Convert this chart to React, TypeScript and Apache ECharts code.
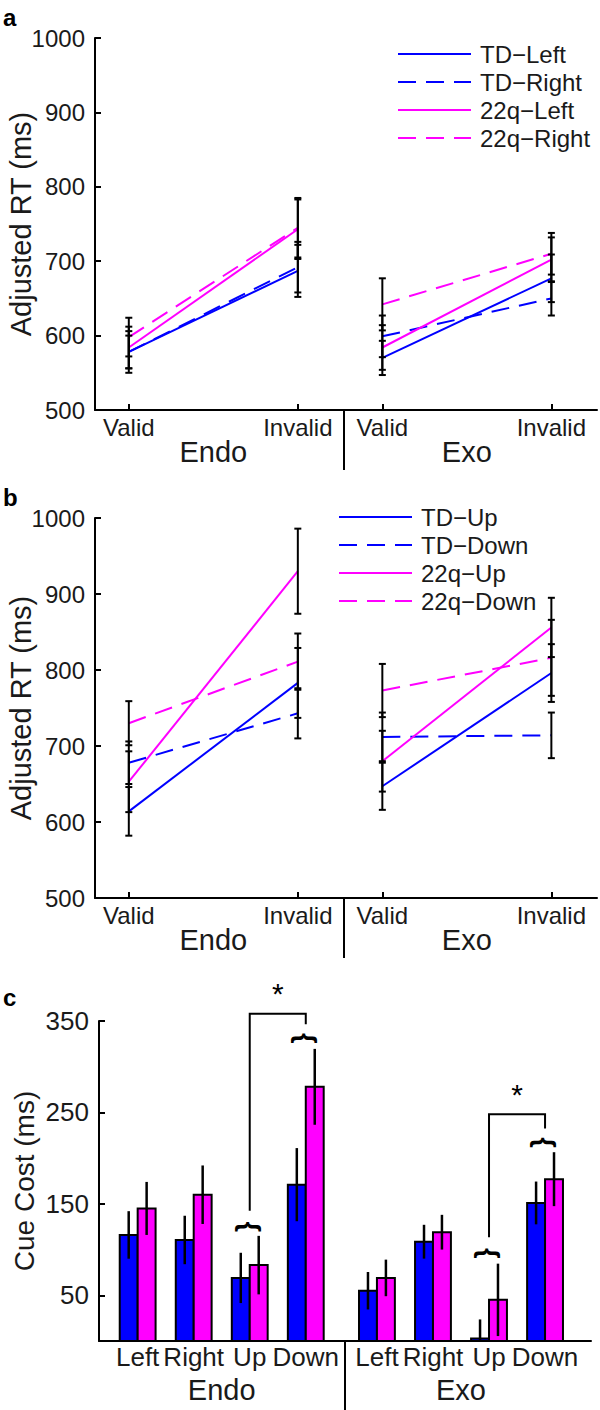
import React, { useEffect, useRef } from 'react';
import * as echarts from 'echarts';

const FONT = '"Liberation Sans", Arial, Helvetica, sans-serif';
const TEXT = '#1a1a1a';
const BLUE = '#0000ff';
const MAGENTA = '#ff00ff';

// ---------- categories / tick labels ----------
const validityLabels = ['Valid', 'Invalid', 'Valid', 'Invalid'];
const cueTypeLabels = ['Endo', 'Exo'];
const cueDirLabels = ['Left', 'Right', 'Up', 'Down', 'Left', 'Right', 'Up', 'Down'];
const rtTicks = [500, 600, 700, 800, 900, 1000];
const costTicks = [50, 150, 250, 350];

// ---------- panel a : adjusted RT, [Endo-Valid, Endo-Invalid, Exo-Valid, Exo-Invalid] ----------
const aNames = ['TD−Left', 'TD−Right', '22q−Left', '22q−Right'];
const aTDLeft = [578, 687, 570, 677];
const aTDRight = [578, 692, 599, 650];
const a22qLeft = [584, 743, 584, 702];
const a22qRight = [598, 745, 642, 710];
const aTDLeftErr = [22, 35, 23, 32];
const aTDRightErr = [28, 34, 28, 23];
const a22qLeftErr = [28, 40, 30, 30];
const a22qRightErr = [26, 40, 35, 28];

// ---------- panel b ----------
const bNames = ['TD−Up', 'TD−Down', '22q−Up', '22q−Down'];
const bTDUp = [614, 783, 647, 796];
const bTDDown = [678, 743, 712, 714];
const b22qUp = [653, 930, 680, 856];
const b22qDown = [730, 811, 773, 816];
const bTDUpErr = [32, 46, 31, 38];
const bTDDownErr = [28, 33, 32, 30];
const b22qUpErr = [40, 56, 40, 39];
const b22qDownErr = [29, 37, 35, 50];

// ---------- panel c : cue cost, Endo L R U D, Exo L R U D ----------
const cTD = [116, 110.5, 69, 171, 55, 108.6, 2.6, 151];
const c22q = [145, 160, 83, 278, 69, 119, 45, 177];
const cTDErr = [26, 26.5, 27.5, 40, 20.5, 18.5, 21, 23.4];
const c22qErr = [29, 32, 32, 41.5, 20, 19, 39.6, 29.5];
// significance annotations (category index pairs and levels in ms)
const sigPairs = [[2, 3], [6, 7]];
const braceLevels = [125, 331, 96, 217];
const bracketTops = [358, 248];

// ---------- layout (axis positions, not data) ----------
const rtX = [0, 1, 1.5, 2.5];
const rtGroupX = [0.5, 2.0];
const rtDivider = 1.27;
const cueX = [0, 1, 2, 3, 4.27, 5.27, 6.27, 7.27];
const cueGroupX = [1.5, 5.77];
const cueDivider = 3.7;

const lineStyles = [
  { color: BLUE, type: 'solid' },
  { color: BLUE, type: [18, 10] },
  { color: MAGENTA, type: 'solid' },
  { color: MAGENTA, type: [18, 10] },
];

const axisLineStyle = { color: '#000', width: 2 };

function lineSeries(names: string[], vals: number[][], xIdx: number, yIdx: number) {
  const out: any[] = [];
  names.forEach((name, i) => {
    const st = lineStyles[i];
    [[0, 1], [2, 3]].forEach((seg) => {
      out.push({
        type: 'line',
        name,
        xAxisIndex: xIdx,
        yAxisIndex: yIdx,
        symbol: 'none',
        showSymbol: false,
        z: 2,
        color: st.color,
        lineStyle: { color: st.color, width: 2, type: st.type },
        data: seg.map((k) => [rtX[k], vals[i][k]]),
      });
    });
  });
  return out;
}

function errorSeries(vals: number[][], errs: number[][], xIdx: number, yIdx: number) {
  const data: number[][] = [];
  vals.forEach((v, i) => v.forEach((val, k) => data.push([rtX[k], val, errs[i][k]])));
  return {
    type: 'custom',
    xAxisIndex: xIdx,
    yAxisIndex: yIdx,
    z: 5,
    clip: false,
    encode: { x: 0, y: 1 },
    data,
    renderItem: (_p: any, api: any) => {
      const x = api.value(0);
      const v = api.value(1);
      const e = api.value(2);
      const hi = api.coord([x, v + e]);
      const lo = api.coord([x, v - e]);
      const cap = 3.5;
      const st = { stroke: '#000', lineWidth: 2 };
      return {
        type: 'group',
        children: [
          { type: 'line', shape: { x1: hi[0], y1: hi[1], x2: lo[0], y2: lo[1] }, style: st },
          { type: 'line', shape: { x1: hi[0] - cap, y1: hi[1], x2: hi[0] + cap, y2: hi[1] }, style: st },
          { type: 'line', shape: { x1: lo[0] - cap, y1: lo[1], x2: lo[0] + cap, y2: lo[1] }, style: st },
        ],
      };
    },
  };
}

function rtXAxes(gridIndex: number) {
  return [
    {
      type: 'value',
      gridIndex,
      min: -0.2,
      max: 2.77,
      position: 'bottom',
      offset: 0,
      axisLine: { show: true, onZero: false, lineStyle: axisLineStyle },
      axisTick: { show: true, inside: true, length: 6, customValues: rtX, lineStyle: axisLineStyle },
      axisLabel: {
        show: true,
        customValues: rtX,
        formatter: (v: number) => validityLabels[rtX.indexOf(v)] ?? '',
        fontSize: 24,
        margin: 5,
        color: TEXT,
        fontFamily: FONT,
      },
      splitLine: { show: false },
    },
    {
      type: 'value',
      gridIndex,
      min: -0.2,
      max: 2.77,
      position: 'bottom',
      offset: 0,
      axisLine: { show: false, onZero: false },
      axisTick: { show: true, inside: false, length: 60, customValues: [rtDivider], lineStyle: axisLineStyle },
      axisLabel: {
        show: true,
        customValues: rtGroupX,
        formatter: (v: number) => cueTypeLabels[rtGroupX.indexOf(v)] ?? '',
        fontSize: 29,
        margin: 27,
        color: TEXT,
        fontFamily: FONT,
      },
      splitLine: { show: false },
    },
  ];
}

function rtYAxis(gridIndex: number) {
  return {
    type: 'value',
    gridIndex,
    min: rtTicks[0],
    max: rtTicks[rtTicks.length - 1],
    interval: 100,
    axisLine: { show: true, onZero: false, lineStyle: axisLineStyle },
    axisTick: { show: true, inside: true, length: 6, lineStyle: axisLineStyle },
    axisLabel: { fontSize: 24, margin: 10, color: TEXT, fontFamily: FONT, formatter: (v: number) => String(v) },
    splitLine: { show: false },
    name: 'Adjusted RT (ms)',
    nameLocation: 'middle',
    nameGap: 60,
    nameMoveOverlap: false,
    nameTextStyle: { fontSize: 29, color: TEXT, fontFamily: FONT },
  };
}

function legendFor(names: string[], left: number, top: number) {
  return {
    data: names,
    orient: 'vertical',
    left,
    top,
    padding: 0,
    itemWidth: 73,
    itemHeight: 14,
    itemGap: 4,
    selectedMode: false,
    itemStyle: { opacity: 0, color: 'transparent', borderColor: 'transparent', borderWidth: 0 },
    textStyle: { fontSize: 24, lineHeight: 24, color: TEXT, fontFamily: FONT, padding: [0, 0, 0, 4] },
  };
}

export default function App() {
  const ref = useRef<HTMLDivElement>(null);
  useEffect(() => {
    document.body.style.margin = '0';
    if (!ref.current) return;
    const chart = echarts.init(ref.current, undefined, { renderer: 'svg' });

    const aVals = [aTDLeft, aTDRight, a22qLeft, a22qRight];
    const aErrs = [aTDLeftErr, aTDRightErr, a22qLeftErr, a22qRightErr];
    const bVals = [bTDUp, bTDDown, b22qUp, b22qDown];
    const bErrs = [bTDUpErr, bTDDownErr, b22qUpErr, b22qDownErr];

    const barData = cueX.map((x, i) => [x, cTD[i], c22q[i], cTDErr[i], c22qErr[i]]);
    const sigData = sigPairs.map((p, k) => [
      cueX[p[0]],
      cueX[p[1]],
      braceLevels[k * 2],
      braceLevels[k * 2 + 1],
      bracketTops[k],
    ]);

    const gridBase = { outerBoundsMode: 'none', containLabel: false };

    const option: any = {
      animation: false,
      textStyle: { fontFamily: FONT },
      grid: [
        { ...gridBase, left: 95, top: 38, width: 502, height: 372 },
        { ...gridBase, left: 95, top: 518, width: 502, height: 380 },
        { ...gridBase, left: 99, top: 1021, width: 492, height: 320 },
      ],
      legend: [legendFor(aNames, 397, 42), legendFor(bNames, 338, 505)],
      xAxis: [
        ...rtXAxes(0),
        ...rtXAxes(1),
        {
          type: 'value',
          gridIndex: 2,
          min: -0.69,
          max: 8.09,
          position: 'bottom',
          offset: 0,
          axisLine: { show: true, onZero: false, lineStyle: axisLineStyle },
          axisTick: { show: false },
          axisLabel: {
            show: true,
            customValues: cueX,
            formatter: (v: number) => cueDirLabels[cueX.indexOf(v)] ?? '',
            fontSize: 26,
            margin: 3,
            color: TEXT,
            fontFamily: FONT,
          },
          splitLine: { show: false },
        },
        {
          type: 'value',
          gridIndex: 2,
          min: -0.69,
          max: 8.09,
          position: 'bottom',
          offset: 0,
          axisLine: { show: false, onZero: false },
          axisTick: { show: true, inside: false, length: 70, customValues: [cueDivider], lineStyle: axisLineStyle },
          axisLabel: {
            show: true,
            customValues: cueGroupX,
            formatter: (v: number) => cueTypeLabels[cueGroupX.indexOf(v)] ?? '',
            fontSize: 29,
            margin: 34,
            color: TEXT,
            fontFamily: FONT,
          },
          splitLine: { show: false },
        },
      ],
      yAxis: [
        rtYAxis(0),
        rtYAxis(1),
        {
          type: 'value',
          gridIndex: 2,
          min: 0,
          max: 350,
          axisLine: { show: true, onZero: false, lineStyle: axisLineStyle },
          axisTick: { show: true, inside: true, length: 6, customValues: costTicks, lineStyle: axisLineStyle },
          axisLabel: { customValues: costTicks, fontSize: 26, margin: 10, color: TEXT, fontFamily: FONT },
          splitLine: { show: false },
          name: 'Cue Cost (ms)',
          nameLocation: 'middle',
          nameGap: 61,
          nameMoveOverlap: false,
          nameTextStyle: { fontSize: 28, color: TEXT, fontFamily: FONT },
        },
      ],
      series: [
        ...lineSeries(aNames, aVals, 0, 0),
        errorSeries(aVals, aErrs, 0, 0),
        ...lineSeries(bNames, bVals, 2, 1),
        errorSeries(bVals, bErrs, 2, 1),
        {
          type: 'custom',
          xAxisIndex: 4,
          yAxisIndex: 2,
          z: 3,
          clip: false,
          encode: { x: 0, y: [1, 2] },
          data: barData,
          renderItem: (_p: any, api: any) => {
            const x = api.value(0);
            const base = api.coord([x, 0]);
            const w = api.size([0.32, 0])[0];
            const vals = [api.value(1), api.value(2)];
            const errs = [api.value(3), api.value(4)];
            const fills = [BLUE, MAGENTA];
            const children: any[] = [];
            vals.forEach((v, k) => {
              const top = api.coord([x, v]);
              children.push({
                type: 'rect',
                shape: { x: base[0] - w + k * w, y: top[1], width: w, height: base[1] - top[1] },
                style: { fill: fills[k], stroke: '#000', lineWidth: 2 },
              });
            });
            vals.forEach((v, k) => {
              const cx = base[0] - w / 2 + k * w;
              const hi = api.coord([x, v + errs[k]]);
              const lo = api.coord([x, Math.max(0, v - errs[k])]);
              children.push({
                type: 'line',
                shape: { x1: cx, y1: hi[1], x2: cx, y2: lo[1] },
                style: { stroke: '#000', lineWidth: 2.5 },
              });
            });
            return { type: 'group', children };
          },
        },
        {
          type: 'custom',
          xAxisIndex: 4,
          yAxisIndex: 2,
          z: 6,
          clip: false,
          encode: { x: 0, y: 4 },
          data: sigData,
          renderItem: (_p: any, api: any) => {
            const xl = api.value(0);
            const xr = api.value(1);
            const bl = api.coord([xl, api.value(2)]);
            const br = api.coord([xr, api.value(3)]);
            const top = api.coord([xl, api.value(4)])[1];
            const mid = (bl[0] + br[0]) / 2;
            const braceStyle = {
              text: '{',
              fontSize: 27,
              fontWeight: 'bold',
              fontFamily: FONT,
              fill: '#000',
              align: 'center',
              verticalAlign: 'middle',
            };
            return {
              type: 'group',
              children: [
                {
                  type: 'polyline',
                  shape: { points: [[bl[0], bl[1] - 16], [bl[0], top], [br[0], top], [br[0], br[1] - 14]] },
                  style: { stroke: '#000', lineWidth: 2, fill: null },
                },
                { type: 'text', x: bl[0], y: bl[1], rotation: -Math.PI / 2, style: braceStyle },
                { type: 'text', x: br[0], y: br[1], rotation: -Math.PI / 2, style: braceStyle },
                {
                  type: 'text',
                  x: mid,
                  y: top - 5,
                  style: {
                    text: '*',
                    fontSize: 30,
                    fontFamily: FONT,
                    fill: '#000',
                    align: 'center',
                    verticalAlign: 'bottom',
                  },
                },
              ],
            };
          },
        },
      ],
      graphic: [
        { type: 'text', left: 3, top: 5, style: { text: 'a', fontSize: 24, fontWeight: 'bold', fontFamily: FONT, fill: '#000' } },
        { type: 'text', left: 3, top: 485, style: { text: 'b', fontSize: 24, fontWeight: 'bold', fontFamily: FONT, fill: '#000' } },
        { type: 'text', left: 3, top: 985, style: { text: 'c', fontSize: 24, fontWeight: 'bold', fontFamily: FONT, fill: '#000' } },
      ],
    };
    chart.setOption(option);
    return () => chart.dispose();
  }, []);
  return <div ref={ref} style={{ width: 600, height: 1410 }} />;
}
